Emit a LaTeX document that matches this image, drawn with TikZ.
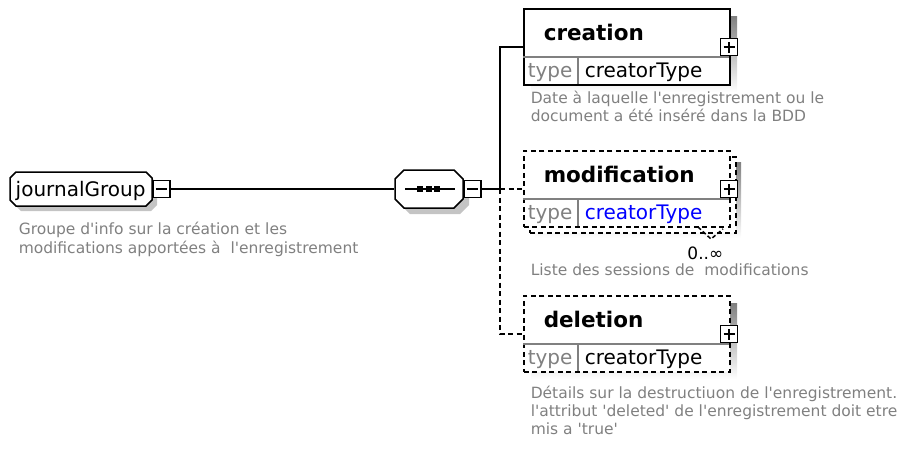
\documentclass[tikz,border=0pt]{standalone}
\usepackage{fontspec}
\setmainfont{DejaVu Sans}[Ligatures=TeXOff]
\definecolor{shade}{HTML}{C4C4C4}
\definecolor{desc}{HTML}{808080}
\definecolor{typeblue}{HTML}{0000FF}
\newcommand\fdesc{\fontsize{15.5}{18.5}\selectfont}
\newcommand\fname{\fontsize{20}{24}\selectfont}
\newcommand\ftitle{\fontsize{21.5}{26}\selectfont\bfseries}
\newcommand\myocta[6][]{\path[#1] ({#2+#6},#3) -- ({#4-#6},#3) -- (#4,{#3+#6}) -- (#4,{#5-#6}) -- ({#4-#6},#5) -- ({#2+#6},#5) -- (#2,{#5-#6}) -- (#2,{#3+#6}) -- cycle;}
\begin{document}
\begin{tikzpicture}[x=1pt,y=-1pt,line width=1.5pt,
  elem/.style={draw=black,fill=white,line width=1.5pt,minimum width=206pt,minimum height=76pt,anchor=north west,inner sep=0pt},
  delem/.style={elem,dash pattern=on 5pt off 3.5pt},
  pmbox/.style={draw=black,fill=white,minimum size=17pt,inner sep=0pt,line width=1.5pt},
  plusbox/.style={pmbox,path picture={\draw[line width=1.5pt] (path picture bounding box.center) ++(-5.5pt,0pt) -- ++(11pt,0pt); \draw[line width=1.5pt] (path picture bounding box.center) ++(0pt,-5.5pt) -- ++(0pt,11pt);}},
  minusbox/.style={pmbox,path picture={\draw[line width=1.5pt] (path picture bounding box.center) ++(-5.5pt,0pt) -- ++(11pt,0pt);}},
  conn/.style={draw=black,line width=1.5pt},
  dconn/.style={conn,dash pattern=on 5pt off 3.5pt},
  titletext/.style={font=\ftitle,anchor=base west,inner sep=0pt},
  nametext/.style={font=\fname,anchor=base west,inner sep=0pt},
  typelabel/.style={font=\fname,anchor=base west,inner sep=0pt,text=desc},
  desctext/.style={font=\fdesc,anchor=base west,inner sep=0pt,text=desc},
  sep/.style={draw=desc,line width=1.3pt}
]
\useasboundingbox (0,0) rectangle (913,448);

% ---------- journalGroup ----------
\myocta[fill=shade]{15}{177}{157}{211}{6}
\myocta[fill=white,draw=black,line width=1.5pt]{10}{172}{152}{206}{6}
\node[nametext] (jg) at (15,196) {journalGroup};
\node[minusbox,anchor=west] (jgminus) at (152,189) {};
\node[desctext] (jgdesc1) at (18,234) {Groupe d'info sur la création et les};
\node[desctext] (jgdesc2) at (18,253) {modifications apportées à\ \ l'enregistrement};

% ---------- sequence ----------
\myocta[fill=shade]{401}{176}{469}{214}{9}
\myocta[fill=white,draw=black,line width=1.5pt]{395}{170}{463}{208}{9}
\node[minimum width=68pt,minimum height=38pt,inner sep=0pt] (seq) at (429,189) {};
\draw (405,189) -- (455,189);
\foreach \dx in {420,428.5,437}{\fill (\dx-3,186) rectangle (\dx+3,192);}
\node[minusbox,anchor=west] (seqminus) at (463,189) {};
\coordinate (junction) at (500,189);

% ---------- creation ----------
\fill[shade] (531,16) rectangle (737,92);
\node[elem] (creation) at (523,8) {};
\draw[sep] (523,57) -- (729,57);
\draw[sep] (578,57) -- (578,84);
\node[titletext] (ctitle) at (543,40) {creation};
\node[typelabel] (ctype) at (527,77) {type};
\node[nametext] (cval) at (584,77) {creatorType};
\node[plusbox] (cplus) at (729,47) {};
\node[desctext] (cdesc1) at (530,103) {Date à laquelle l'enregistrement ou le};
\node[desctext] (cdesc2) at (530,121) {document a été inséré dans la BDD};

% ---------- modification ----------
\fill[shade] (535,162) rectangle (741,238);
\node[delem] (modback) at (529,156) {};
\node[delem] (modification) at (523,150) {};
\draw[sep] (523,199) -- (729,199);
\draw[sep] (578,199) -- (578,226);
\node[titletext] (mtitle) at (543,182) {modification};
\node[typelabel] (mtype) at (527,219) {type};
\node[nametext,text=typeblue] (mval) at (584,219) {creatorType};
\node[plusbox] (mplus) at (729,189) {};
\draw[line width=1.5pt,dash pattern=on 4pt off 2.5pt] (698,227) -- (711,239) -- (723,229);
\node[font=\fontsize{17}{20}\selectfont,anchor=base east,inner sep=0pt] (mocc) at (724,259) {0..∞};
\node[desctext] (mdesc1) at (530,275) {Liste des sessions de\ \ modifications};

% ---------- deletion ----------
\fill[shade] (531,303) rectangle (737,379);
\node[delem] (deletion) at (523,295) {};
\draw[sep] (523,344) -- (729,344);
\draw[sep] (578,344) -- (578,371);
\node[titletext] (dtitle) at (543,327) {deletion};
\node[typelabel] (dtype) at (527,364) {type};
\node[nametext] (dval) at (584,364) {creatorType};
\node[plusbox] (dplus) at (729,334) {};
\node[desctext] (ddesc1) at (530,398) {Détails sur la destructiuon de l'enregistrement.};
\node[desctext] (ddesc2) at (530,416) {l'attribut 'deleted' de l'enregistrement doit etre};
\node[desctext] (ddesc3) at (530,434) {mis a 'true'};

% ---------- connectors ----------
\draw[conn] (jgminus.east) -- (seq.west);
\draw[conn] (seqminus.east) -- (junction);
\draw[conn] (junction) |- (creation.west |- cplus.center);
\draw[dconn] (junction) -- (modification.west |- mplus.center);
\draw[dconn] (junction) |- (deletion.west |- dplus.center);
\end{tikzpicture}
\end{document}
